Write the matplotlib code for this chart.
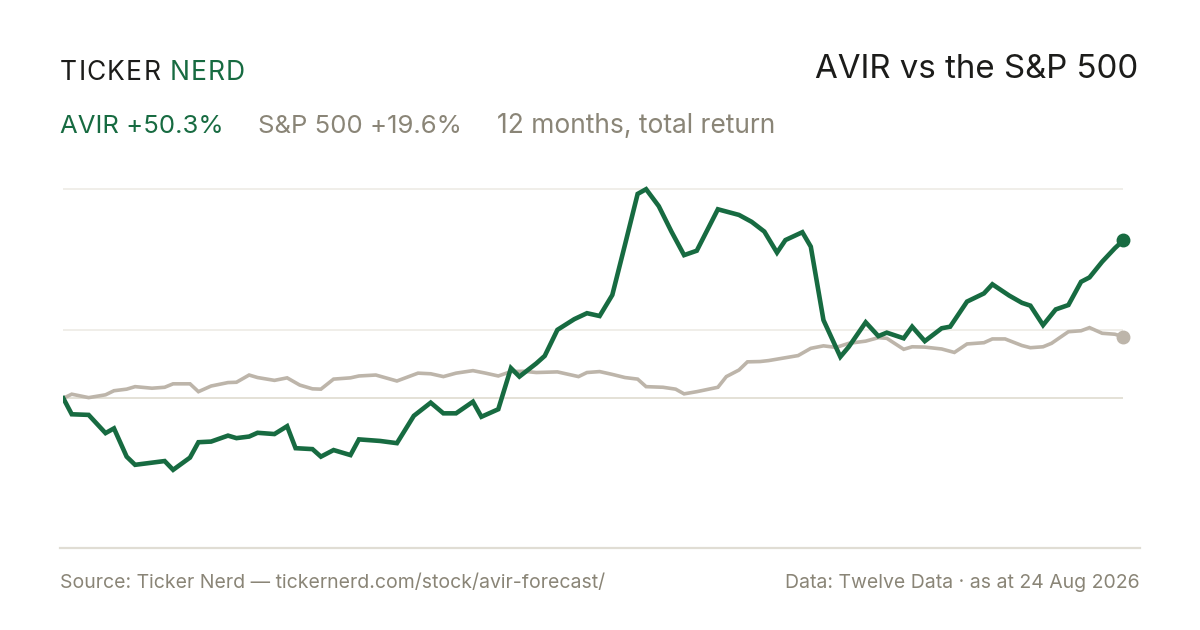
import matplotlib
matplotlib.use("Agg")
import matplotlib.pyplot as plt
from matplotlib.lines import Line2D

plt.rcParams['font.family'] = ['Inter', 'DejaVu Sans']

# trading day index (0 = 12 months ago) and total return in %
avir_days = [0, 2, 6, 10, 12, 15, 17, 24, 26, 30, 32, 35, 39, 41, 44, 46, 50,
             53, 55, 59, 61, 64, 68, 70, 75, 79, 83, 87, 90, 93, 97, 99, 103,
             106, 108, 112, 114, 117, 121, 124, 127, 130, 133, 136, 138, 141,
             144, 147, 150, 155, 160, 163, 166, 169, 171, 175, 177, 180, 184,
             186, 190, 193, 195, 199, 201, 204, 208, 210, 214, 218, 220, 224,
             227, 229, 232, 235, 238, 241, 243, 246, 249, 251]
avir_ret = [0.0, -5.1, -5.3, -11.1, -9.6, -18.6, -21.2, -20.0, -22.8, -18.9,
            -14.0, -13.8, -11.9, -12.7, -12.2, -11.0, -11.4, -8.9, -15.9,
            -16.2, -18.6, -16.5, -18.1, -13.1, -13.6, -14.3, -5.6, -1.4, -4.8,
            -4.8, -1.1, -5.9, -3.5, 9.6, 6.9, 11.1, 13.5, 21.8, 25.2, 27.1,
            26.2, 32.9, 48.9, 65.1, 66.6, 61.2, 53.1, 45.6, 47.0, 60.2, 58.4,
            56.2, 53.1, 46.4, 50.4, 52.9, 48.3, 24.9, 13.2, 16.4, 24.2, 19.8,
            20.9, 19.1, 22.8, 18.2, 22.3, 22.8, 30.8, 33.4, 36.3, 32.7, 30.4,
            29.5, 23.3, 28.3, 29.7, 37.1, 38.5, 43.5, 47.8, 50.3]

spx_days = [0, 2, 6, 10, 12, 15, 17, 21, 24, 26, 30, 32, 35, 39, 41, 44, 46,
            50, 53, 56, 59, 61, 64, 68, 70, 74, 79, 84, 87, 90, 93, 97, 100,
            103, 106, 109, 112, 117, 122, 124, 127, 130, 133, 136, 138, 142,
            145, 147, 150, 155, 157, 160, 162, 165, 167, 174, 177, 180, 183,
            186, 190, 193, 195, 199, 201, 204, 208, 211, 214, 218, 220, 223,
            227, 229, 232, 234, 238, 241, 243, 246, 249, 251]
spx_ret = [0.0, 1.3, 0.2, 1.1, 2.4, 2.9, 3.7, 3.2, 3.5, 4.6, 4.6, 2.1, 3.9,
           5.0, 5.1, 7.4, 6.6, 5.7, 6.5, 4.2, 3.0, 2.9, 6.1, 6.5, 7.1, 7.4,
           5.5, 8.0, 7.8, 6.9, 8.0, 8.8, 8.0, 7.1, 8.5, 8.6, 8.2, 8.4, 6.9,
           8.2, 8.5, 7.6, 6.6, 6.1, 3.7, 3.5, 2.9, 1.4, 2.1, 3.5, 6.9, 9.0,
           11.6, 11.7, 12.0, 13.6, 15.9, 16.7, 16.2, 17.5, 18.2, 19.3, 19.1,
           15.6, 16.4, 16.3, 15.7, 14.6, 17.3, 17.7, 18.9, 18.9, 16.8, 16.1,
           16.4, 17.5, 21.2, 21.5, 22.5, 20.7, 20.4, 19.6]

GREEN = "#176b41"
GREY_LINE = "#bdb5aa"
GREY_TEXT = "#8a8577"
DARK = "#1c1c1a"

W, H = 1200, 630
fig = plt.figure(figsize=(12, 6.3), dpi=100)
fig.patch.set_facecolor("white")


def fx(px):
    return px / W


def fy(py):
    return 1 - py / H


# plot area: 3.14 px per percentage point, zero at y=398
ax = fig.add_axes([fx(63.3), fy(548), fx(1123.3) - fx(63.3), fy(160) - fy(548)])
ax.set_xlim(0, avir_days[-1])
ax.set_ylim(-47.7, 75.9)
ax.axis("off")

top = max(avir_ret)
mid = (max(avir_ret) + min(avir_ret)) / 2
ax.axhline(top, color="#ece9e3", lw=1.1, zorder=1)
ax.axhline(mid, color="#ece9e3", lw=1.1, zorder=1)
ax.axhline(0, color="#dcd8cc", lw=1.1, zorder=1)

ax.plot(spx_days, spx_ret, color=GREY_LINE, lw=2.6, solid_joinstyle="miter",
        zorder=2)
ax.plot(avir_days, avir_ret, color=GREEN, lw=3.3, solid_joinstyle="miter",
        zorder=3)
ax.plot(spx_days[-1], spx_ret[-1], "o", color=GREY_LINE, ms=9, clip_on=False,
        zorder=4)
ax.plot(avir_days[-1], avir_ret[-1], "o", color=GREEN, ms=9, clip_on=False,
        zorder=5)

# separator above the footer
fig.add_artist(Line2D([fx(60), fx(1140)], [fy(548), fy(548)], color="#e0ddd4",
                      lw=1.6))

renderer = fig.canvas.get_renderer()


def spaced(x, y, s, color, size, track):
    """Draw text letter by letter with extra tracking (pixels)."""
    for ch in s:
        t = fig.text(fx(x), fy(y), ch, color=color, fontsize=size,
                     va="baseline", ha="left")
        x += t.get_window_extent(renderer).width + track
    return x


x_end = spaced(60, 80, "TICKER", DARK, 19, 1.2)
spaced(x_end + 8, 80, "NERD", GREEN, 19, 1.2)

fig.text(fx(1138), fy(78), "AVIR vs the S&P 500", color=DARK, fontsize=23.8,
         ha="right", va="baseline")

fig.text(fx(60), fy(133), "AVIR +50.3%", color=GREEN, fontsize=18.5,
         va="baseline")
fig.text(fx(258), fy(133), "S&P 500 +19.6%", color=GREY_TEXT, fontsize=18.5,
         va="baseline")
fig.text(fx(497), fy(133), "12 months, total return", color=GREY_TEXT,
         fontsize=19, va="baseline")

fig.text(fx(60), fy(588), "Source: Ticker Nerd \u2014 tickernerd.com/stock/avir-forecast/",
         color=GREY_TEXT, fontsize=14, va="baseline")
fig.text(fx(1140), fy(588), "Data: Twelve Data \u00b7 as at 24 Aug 2026",
         color=GREY_TEXT, fontsize=14, va="baseline", ha="right")

fig.savefig("out.png", dpi=100, facecolor="white")
